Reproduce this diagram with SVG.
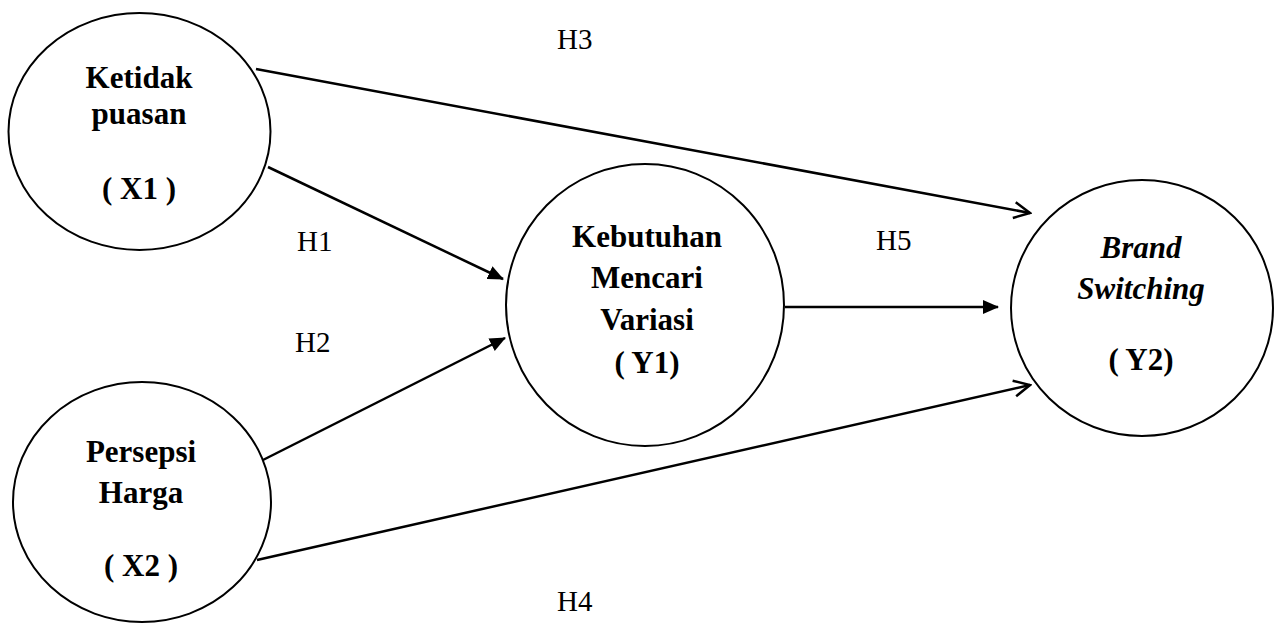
<svg xmlns="http://www.w3.org/2000/svg" width="1278" height="626" viewBox="0 0 1278 626">
  <style>
    .node { fill: #ffffff; stroke: #000000; stroke-width: 2; }
    .title { font-family: "Liberation Serif", "Times New Roman", serif; font-size: 31px; font-weight: bold; text-anchor: middle; fill: #000000; }
    .ital { font-style: italic; }
    .lbl { font-family: "Liberation Serif", "Times New Roman", serif; font-size: 29px; fill: #000000; }
    .edge { stroke: #000000; stroke-width: 2.5; fill: none; }
  </style>
  <defs>
    <marker id="solid" viewBox="0 0 16 14" refX="15" refY="7" markerWidth="16" markerHeight="14" markerUnits="userSpaceOnUse" orient="auto">
      <path d="M0,0 L16,7 L0,14 Z" fill="#000000"/>
    </marker>
    <marker id="open" viewBox="0 0 20 20" refX="18" refY="10" markerWidth="20" markerHeight="20" markerUnits="userSpaceOnUse" orient="auto">
      <path d="M2,2 L18,10 L2,18" fill="none" stroke="#000000" stroke-width="2.5"/>
    </marker>
  </defs>

  <rect width="1278" height="626" fill="#ffffff"/>

  <g id="connectors">
    <line id="h1" class="edge" x1="268" y1="167" x2="503" y2="279" marker-end="url(#solid)"/>
    <line id="h2" class="edge" x1="257" y1="463" x2="505" y2="338" marker-end="url(#solid)"/>
    <line id="h3" class="edge" x1="256" y1="69" x2="1030" y2="213" marker-end="url(#open)"/>
    <line id="h4" class="edge" x1="257" y1="560" x2="1030" y2="385" marker-end="url(#open)"/>
    <line id="h5" class="edge" x1="785" y1="307" x2="998" y2="307" marker-end="url(#solid)"/>
    <text class="lbl" x="297" y="251">H1</text>
    <text class="lbl" x="295" y="352">H2</text>
    <text class="lbl" x="557" y="49">H3</text>
    <text class="lbl" x="557" y="611">H4</text>
    <text class="lbl" x="876" y="250">H5</text>
  </g>

  <g id="x1">
    <ellipse class="node" cx="139.5" cy="131.5" rx="131" ry="118.5"/>
    <text class="title" x="139" y="88">Ketidak</text>
    <text class="title" x="139" y="124">puasan</text>
    <text class="title" x="139" y="199">( X1 )</text>
  </g>

  <g id="x2">
    <ellipse class="node" cx="142" cy="502" rx="129" ry="120"/>
    <text class="title" x="141" y="462">Persepsi</text>
    <text class="title" x="141" y="503">Harga</text>
    <text class="title" x="141" y="576">( X2 )</text>
  </g>

  <g id="y1">
    <ellipse class="node" cx="645" cy="305" rx="139" ry="141"/>
    <text class="title" x="647" y="247">Kebutuhan</text>
    <text class="title" x="647" y="288">Mencari</text>
    <text class="title" x="647" y="330">Variasi</text>
    <text class="title" x="647" y="373">( Y1)</text>
  </g>

  <g id="y2">
    <ellipse class="node" cx="1142" cy="308" rx="131" ry="128"/>
    <text class="title ital" x="1141" y="258">Brand</text>
    <text class="title ital" x="1141" y="299">Switching</text>
    <text class="title" x="1141" y="370">( Y2)</text>
  </g>
</svg>
